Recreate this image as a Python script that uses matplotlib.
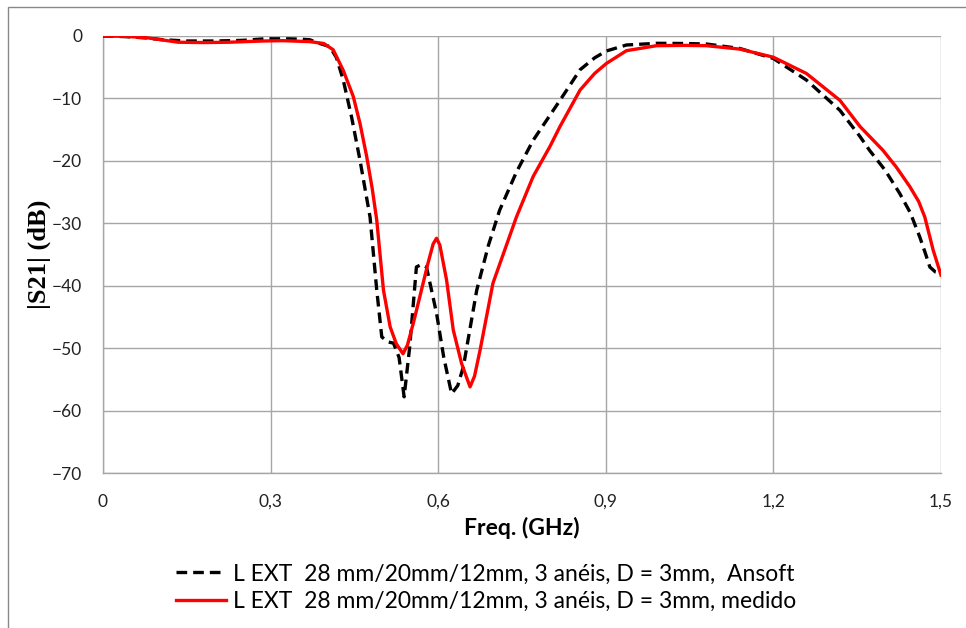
import matplotlib
matplotlib.use("Agg")
import matplotlib.pyplot as plt
from matplotlib.patches import Rectangle

# Frequency (GHz) and |S21| (dB)
freq_ansoft = [0.0, 0.04, 0.076, 0.107, 0.15, 0.2, 0.25, 0.29, 0.33, 0.352, 0.37, 0.388, 0.406,
               0.418, 0.430, 0.445, 0.460, 0.478, 0.490, 0.499, 0.510, 0.520, 0.530, 0.539,
               0.549, 0.561, 0.570, 0.579, 0.597, 0.610, 0.624, 0.635, 0.645, 0.669, 0.690,
               0.710, 0.740, 0.770, 0.800, 0.818, 0.854, 0.880, 0.901, 0.937, 0.991, 1.04,
               1.080, 1.14, 1.20, 1.259, 1.319, 1.355, 1.372, 1.40, 1.426, 1.445, 1.462,
               1.472, 1.480, 1.490, 1.500]
s21_ansoft = [0.0, -0.1, -0.3, -0.6, -0.8, -0.8, -0.7, -0.45, -0.45, -0.5, -0.6, -1.2, -1.7,
              -3.5, -7.05, -13.0, -19.9, -29.0, -40.7, -48.2, -49.0, -49.2, -51.5, -57.8,
              -49.8, -37.0, -36.6, -37.0, -44.4, -51.5, -57.3, -56.0, -53.0, -40.7, -33.5,
              -27.9, -21.8, -16.7, -12.7, -10.3, -5.4, -3.5, -2.4, -1.44, -1.17, -1.2,
              -1.28, -2.0, -3.6, -7.05, -11.9, -16.1, -18.3, -21.5, -25.2, -28.3, -32.2,
              -34.8, -37.0, -37.8, -38.0]

freq_medido = [0.0, 0.04, 0.08, 0.135, 0.18, 0.225, 0.286, 0.322, 0.37, 0.395, 0.412, 0.430,
               0.448, 0.460, 0.472, 0.482, 0.490, 0.502, 0.514, 0.525, 0.537, 0.545, 0.556,
               0.567, 0.582, 0.591, 0.597, 0.603, 0.615, 0.627, 0.642, 0.657, 0.665, 0.675,
               0.698, 0.740, 0.770, 0.800, 0.818, 0.854, 0.880, 0.901, 0.937, 0.991, 1.040,
               1.080, 1.140, 1.200, 1.259, 1.319, 1.355, 1.396, 1.420, 1.444, 1.460, 1.471,
               1.486, 1.500]
s21_medido = [0.0, -0.05, -0.3, -1.0, -1.05, -1.0, -0.8, -0.75, -0.9, -1.2, -2.2, -5.5,
              -9.7, -14.0, -19.3, -24.5, -29.5, -40.7, -46.6, -49.3, -50.9, -49.5, -45.8,
              -41.8, -36.3, -33.3, -32.4, -33.5, -39.1, -47.1, -52.5, -56.2, -54.5, -50.3,
              -39.6, -29.0, -22.5, -17.7, -14.5, -8.65, -6.0, -4.4, -2.35, -1.55, -1.5,
              -1.55, -2.1, -3.4, -6.0, -10.3, -14.5, -18.3, -21.0, -24.1, -26.5, -29.0,
              -34.3, -38.3]

label_ansoft = "L EXT  28 mm/20mm/12mm, 3 anéis, D = 3mm,  Ansoft"
label_medido = "L EXT  28 mm/20mm/12mm, 3 anéis, D = 3mm, medido"

x_ticks = [0, 0.3, 0.6, 0.9, 1.2, 1.5]
x_tick_labels = ["0", "0,3", "0,6", "0,9", "1,2", "1,5"]
y_ticks = [0, -10, -20, -30, -40, -50, -60, -70]

plt.rcParams['font.family'] = ['Lato', 'DejaVu Sans']

fig = plt.figure(figsize=(9.66, 6.28), dpi=100)
ax = fig.add_axes([103 / 966, 1 - 473 / 628, (941 - 103) / 966, (473 - 36) / 628])

ax.plot(freq_ansoft, s21_ansoft, color="black", lw=2.4, dashes=(3.2, 1.8),
        label=label_ansoft, zorder=3)
ax.plot(freq_medido, s21_medido, color="#ff0000", lw=2.4, label=label_medido, zorder=4)

ax.set_xlim(0, 1.5)
ax.set_ylim(-70, 0)
ax.set_xticks(x_ticks)
ax.set_xticklabels(x_tick_labels)
ax.set_yticks(y_ticks)
ax.tick_params(axis="both", length=0, labelsize=12.5, colors="#222222")
ax.tick_params(axis="x", pad=15)
ax.tick_params(axis="y", pad=15)
ax.grid(True, color="#a6a6a6", lw=1.0)
ax.set_axisbelow(True)
for side in ["top", "right"]:
    ax.spines[side].set_visible(False)
for side in ["left", "bottom"]:
    ax.spines[side].set_color("#a6a6a6")
    ax.spines[side].set_linewidth(1.0)

ax.set_xlabel("Freq. (GHz)", fontsize=16.5, fontweight="bold", labelpad=5)
ax.set_ylabel("|S21| (dB)", fontsize=19, fontweight="bold", family="Liberation Serif",
              labelpad=4)
ax.yaxis.set_label_coords(-0.062, 0.5)

leg = fig.legend(loc="center", bbox_to_anchor=(0.503, 0.064), frameon=False,
                 fontsize=16.5, handlelength=2.2, handletextpad=0.3, labelspacing=0.3)

fig.add_artist(Rectangle((8 / 966, -0.5), 2.0, 1.0 + 0.5 - 7 / 628, transform=fig.transFigure,
                         fill=False, edgecolor="#888888", lw=1.0))

fig.savefig("out.png", dpi=100)
